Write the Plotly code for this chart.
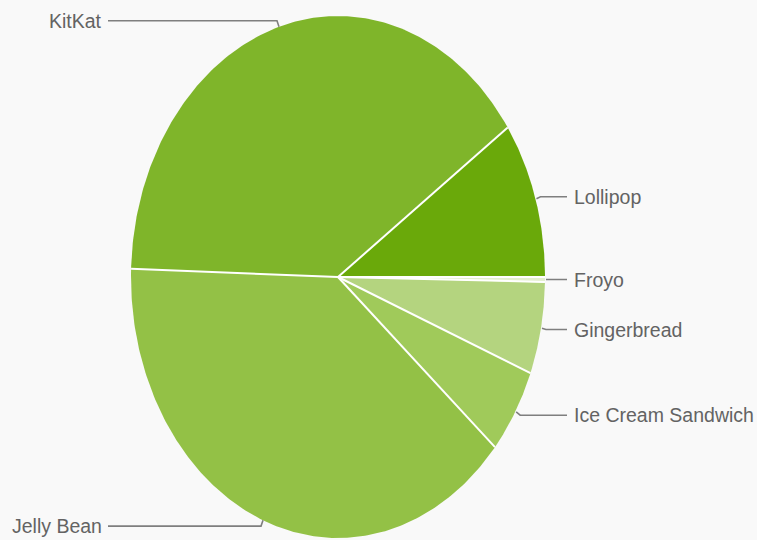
import numpy as np
import plotly.graph_objects as go

# ---- data ----
versions = ["Froyo", "Gingerbread", "Ice Cream Sandwich", "Jelly Bean", "KitKat", "Lollipop"]
shares = [0.3, 5.7, 5.3, 39.2, 39.8, 9.7]
slice_colors = ["#e4efcf", "#b4d47f", "#a0ca5a", "#93c146", "#7fb52a", "#6aa90a"]

# ---- geometry (pixel-unit axes) ----
W, H = 757, 540
cx, cy = 338, 277
rx, ry = 207, 261
bg = "#f9f9f9"

vals = np.array(shares, dtype=float)
cum = np.concatenate([[0.0], np.cumsum(vals) / vals.sum()])

fig = go.Figure()

def ell(deg, grow=0.0):
    r = np.radians(deg)
    return cx + (rx + grow) * np.cos(r), cy - (ry + grow) * np.sin(r)

# slices: start at 3 o'clock, clockwise
for i, name in enumerate(versions):
    a0, a1 = -360 * cum[i], -360 * cum[i + 1]
    t = np.linspace(a0, a1, 200)
    ex, ey = ell(t)
    xs = np.concatenate([[cx], ex, [cx]])
    ys = np.concatenate([[cy], ey, [cy]])
    fig.add_trace(go.Scatter(x=xs, y=ys, mode="lines", fill="toself",
                             fillcolor=slice_colors[i], line=dict(width=0),
                             name=name, hoverinfo="name", showlegend=False))

# white separators
sx, sy = [], []
for c in cum[:-1]:
    px, py = ell(-360 * c)
    sx += [cx, px, None]
    sy += [cy, py, None]
fig.add_trace(go.Scatter(x=sx, y=sy, mode="lines", line=dict(color="white", width=2),
                         hoverinfo="skip", showlegend=False))

# leader lines and labels
lx, ly = [], []
annotations = []
for i, name in enumerate(versions):
    mid = -360 * (cum[i] + cum[i + 1]) / 2
    px, py = ell(mid)
    label_y = cy + (py - cy) * 1.024
    if np.cos(np.radians(mid)) >= 0:
        lx += [px + 1, px + 5, 567, None]
        ly += [py, label_y, label_y, None]
        annotations.append(dict(x=572, y=label_y, text=name, xanchor="left", yanchor="middle",
                                showarrow=False, xref="x", yref="y"))
    else:
        lx += [px, px - 2, 108, None]
        ly += [py, label_y, label_y, None]
        annotations.append(dict(x=104, y=label_y, text=name, xanchor="right", yanchor="middle",
                                showarrow=False, xref="x", yref="y"))
fig.add_trace(go.Scatter(x=lx, y=ly, mode="lines", line=dict(color="#7f7f7f", width=1.6),
                         hoverinfo="skip", showlegend=False))

fig.update_layout(
    width=W, height=H,
    margin=dict(l=0, r=0, t=0, b=0),
    paper_bgcolor=bg, plot_bgcolor=bg,
    xaxis=dict(range=[0, W], visible=False, fixedrange=True),
    yaxis=dict(range=[H, 0], visible=False, fixedrange=True),
    font=dict(family="Liberation Sans, Arial, sans-serif", size=19.5, color="#636363"),
    annotations=annotations,
    showlegend=False,
)

fig.write_html("out.html")
